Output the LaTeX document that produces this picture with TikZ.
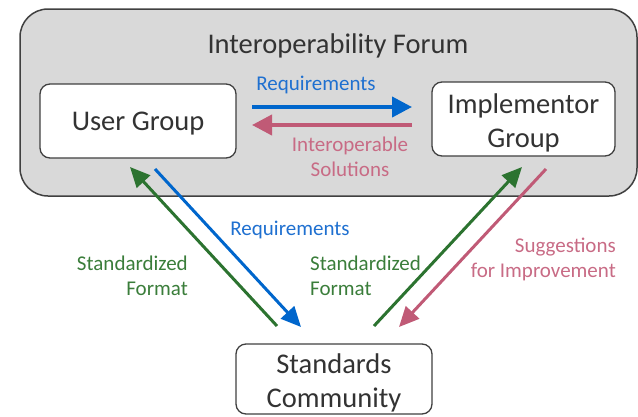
\documentclass[tikz,border=0pt]{standalone}
\usepackage{fontspec}
\setmainfont{Carlito}
\usetikzlibrary{arrows.meta}
\definecolor{forumfill}{HTML}{D9D9D9}
\definecolor{boxline}{HTML}{404040}
\definecolor{txtdark}{HTML}{333333}
\definecolor{arrblue}{HTML}{0066CC}
\definecolor{arrpink}{HTML}{C05A76}
\definecolor{arrgreen}{HTML}{2C7330}
\definecolor{txtblue}{HTML}{1F70D0}
\definecolor{txtpink}{HTML}{C86B85}
\definecolor{txtgreen}{HTML}{3A7D3A}
\begin{document}
\begin{tikzpicture}[x=1pt,y=-1pt,
  forum/.style={draw=boxline, line width=1.5pt, fill=forumfill, rounded corners=28pt, minimum width=617pt, minimum height=187pt, inner sep=0pt},
  groupbox/.style={draw=boxline, line width=1.3pt, fill=white, rounded corners=10pt, inner sep=0pt},
  boxtext/.style={inner sep=0pt, align=center, text=txtdark, font=\fontsize{28.5}{34}\selectfont},
  lbl/.style={inner sep=0pt, font=\fontsize{21}{25}\selectfont},
  harrow/.style={line width=4pt, -{Triangle[length=20pt,width=20pt]}},
  darrow/.style={line width=3pt, -{Triangle[length=20pt,width=18pt]}}
]
\useasboundingbox (0,0) rectangle (638,416);
\node[forum] (forum) at (328.5,102.5) {};
\node[boxtext] (title) at (338,46) {Interoperability Forum};
\node[groupbox, minimum width=196pt, minimum height=74pt] (user) at (138,121) {};
\node[groupbox, minimum width=183pt, minimum height=74pt] (impl) at (523.5,119) {};
\node[groupbox, minimum width=196pt, minimum height=70pt] (std) at (334,379) {};
\node[boxtext] (usertxt) at ([yshift=-3pt]user.center) {User Group};
\node[boxtext] (impltxt) at ([yshift=-3.5pt]impl.center) {Implementor\\Group};
\node[boxtext] (stdtxt) at ([yshift=-3.5pt]std.center) {Standards\\Community};

% arrow end points
\coordinate (hb1) at (252,107);
\coordinate (hb2) at (412,107);
\coordinate (hp1) at (412,125);
\coordinate (hp2) at (252,125);
\coordinate (lg1) at (277,326);
\coordinate (lg2) at (130,167);
\coordinate (lb1) at (155,169);
\coordinate (lb2) at (301,327);
\coordinate (rg1) at (374,326);
\coordinate (rg2) at (522,167);
\coordinate (rp1) at (546,169);
\coordinate (rp2) at (399,327);

\draw[harrow, arrblue] (hb1) -- (hb2);
\draw[harrow, arrpink] (hp1) -- (hp2);
\draw[darrow, arrgreen] (lg1) -- (lg2);
\draw[darrow, arrblue] (lb1) -- (lb2);
\draw[darrow, arrgreen] (rg1) -- (rg2);
\draw[darrow, arrpink] (rp1) -- (rp2);

\node[lbl, text=txtblue] (req1) at (316,85) {Requirements};
\node[lbl, text=txtpink, align=center] (sol) at (350,157) {Interoperable\\Solutions};
\node[lbl, text=txtblue] (req2) at (290,230) {Requirements};
\node[lbl, text=txtgreen, align=right, anchor=east] (sf1) at (188,276) {Standardized\\Format};
\node[lbl, text=txtgreen, align=left, anchor=west] (sf2) at (310,276) {Standardized\\Format};
\node[lbl, text=txtpink, align=right, anchor=east] (sug) at (616,259) {Suggestions\\for Improvement};
\end{tikzpicture}
\end{document}
